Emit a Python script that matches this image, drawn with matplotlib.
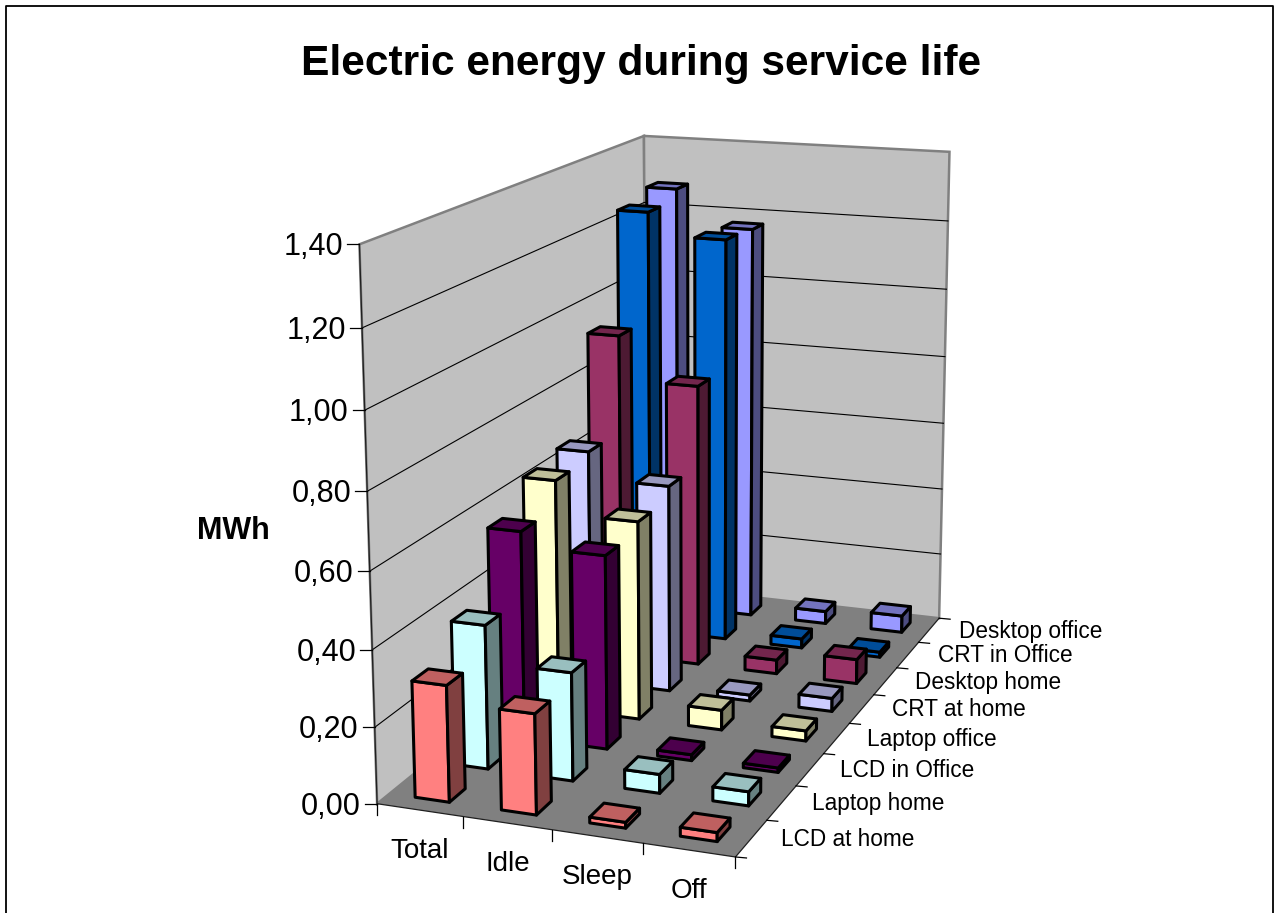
import matplotlib
matplotlib.use('Agg')
import matplotlib.pyplot as plt
from matplotlib.patches import Polygon
import numpy as np

plt.rcParams['font.family'] = ['Liberation Sans', 'DejaVu Sans']

# data, MWh
categories = ['Total', 'Idle', 'Sleep', 'Off']
series_names = ['LCD at home', 'Laptop home', 'LCD in Office', 'Laptop office',
                'CRT at home', 'Desktop home', 'CRT in Office', 'Desktop office']
lcd_home = [0.305, 0.262, 0.015, 0.023]
laptop_home = [0.385, 0.288, 0.05, 0.037]
lcd_office = [0.565, 0.525, 0.016, 0.012]
laptop_office = [0.64, 0.55, 0.055, 0.028]
crt_home = [0.66, 0.585, 0.017, 0.037]
desktop_home = [0.935, 0.81, 0.04, 0.07]
crt_office = [1.245, 1.18, 0.027, 0.015]
desktop_office = [1.275, 1.17, 0.037, 0.05]
values = [lcd_home, laptop_home, lcd_office, laptop_office,
          crt_home, desktop_home, crt_office, desktop_office]
colors = ['#FF8080', '#CCFFFF', '#660066', '#FFFFCC',
          '#CCCCFF', '#993366', '#0066CC', '#9999FF']
z_ticks = [0, 0.2, 0.4, 0.6, 0.8, 1.0, 1.2, 1.4]
z_labels = ['0,00', '0,20', '0,40', '0,60', '0,80', '1,00', '1,20', '1,40']

n_cat = len(categories)
n_ser = len(series_names)
z_max = 1.4

# camera: fit the perspective from the corners of the chart box
box_3d = [(0, 0, 0), (n_cat, 0, 0), (n_cat, n_ser, 0), (0, n_ser, 0),
          (0, 0, z_max), (0, n_ser, z_max), (n_cat, n_ser, z_max)]
box_px = [(377, 804), (735, 857), (939, 618), (647, 585),
          (360, 244), (643, 136), (950, 152)]
A = []
b = []
for (x, y, z), (u, v) in zip(box_3d, box_px):
    A.append([x, y, z, 1, 0, 0, 0, 0, -u * x, -u * y, -u * z])
    b.append(u)
    A.append([0, 0, 0, 0, x, y, z, 1, -v * x, -v * y, -v * z])
    b.append(v)
m = np.linalg.lstsq(np.array(A, float), np.array(b, float), rcond=None)[0]
M = np.append(m, 1).reshape(3, 4)


def proj(x, y, z):
    p = M @ np.array([x, y, z, 1.0])
    return p[0] / p[2], p[1] / p[2]


def shade(col, f):
    r, g, b = matplotlib.colors.to_rgb(col)
    return (r * f, g * f, b * f)


fig = plt.figure(figsize=(12.8, 9.13), dpi=100)
ax = fig.add_axes([0, 0, 1, 1])
ax.set_xlim(0, 1280)
ax.set_ylim(913, 0)
ax.axis('off')

# outer chart border, runs off the bottom
ax.plot([6, 6, 1273, 1273], [913, 6.5, 6.5, 913], color='black', lw=1.3)

# walls and floor
wall_kw = dict(facecolor='#C0C0C0', edgecolor='#808080', lw=1.8, zorder=1)
ax.add_patch(Polygon([proj(0, 0, 0), proj(0, n_ser, 0), proj(0, n_ser, z_max), proj(0, 0, z_max)], **wall_kw))
ax.add_patch(Polygon([proj(0, n_ser, 0), proj(n_cat, n_ser, 0), proj(n_cat, n_ser, z_max), proj(0, n_ser, z_max)], **wall_kw))
ax.add_patch(Polygon([proj(0, 0, 0), proj(n_cat, 0, 0), proj(n_cat, n_ser, 0), proj(0, n_ser, 0)],
                     facecolor='#808080', edgecolor='none', zorder=2))

# gridlines
for t in z_ticks[1:-1]:
    pts = [proj(0, 0, t), proj(0, n_ser, t), proj(n_cat, n_ser, t)]
    ax.plot([p[0] for p in pts], [p[1] for p in pts], color='black', lw=0.8, zorder=3)

# axis lines
pts = [proj(0, 0, z_max), proj(0, 0, 0), proj(n_cat, 0, 0), proj(n_cat, n_ser, 0)]
ax.plot([p[0] for p in pts], [p[1] for p in pts], color='#202020', lw=0.9, zorder=3)

# ticks and labels
for t, lab in zip(z_ticks, z_labels):
    u, v = proj(0, 0, t)
    ax.plot([u - 12, u], [v, v], color='black', lw=0.9, zorder=3)
    ax.text(u - 16, v + 3, lab, ha='right', va='center', fontsize=22)
for i in range(n_cat + 1):
    u, v = proj(i, 0, 0)
    ax.plot([u, u], [v, v + 11], color='black', lw=0.9, zorder=3)
for i, lab in enumerate(categories):
    u, v = proj(i + 0.5, 0, 0)
    ax.text(u, v + 41, lab, ha='center', va='center', fontsize=20)
for j in range(n_ser + 1):
    u, v = proj(n_cat, j, 0)
    ax.plot([u, u + 11], [v, v + 1], color='black', lw=0.9, zorder=3)
for j, lab in enumerate(series_names):
    u, v = proj(n_cat, j + 0.5, 0)
    ax.text(u + 30, v + 1, lab, ha='left', va='center', fontsize=16.3)

# bars, from the back row forward so nearer ones cover farther ones
half = 0.2
z = 4
for j in range(n_ser - 1, -1, -1):
    for i in range(n_cat):
        h = values[j][i]
        x0, x1 = i + 0.5 - half, i + 0.5 + half
        y0, y1 = j + 0.5 - half, j + 0.5 + half
        c = colors[j]
        kw = dict(edgecolor='black', lw=2.2, joinstyle='round', zorder=z)
        ax.add_patch(Polygon([proj(x0, y0, 0), proj(x1, y0, 0), proj(x1, y0, h), proj(x0, y0, h)], facecolor=c, **kw))
        ax.add_patch(Polygon([proj(x1, y0, 0), proj(x1, y1, 0), proj(x1, y1, h), proj(x1, y0, h)], facecolor=shade(c, 0.5), **kw))
        ax.add_patch(Polygon([proj(x0, y0, h), proj(x1, y0, h), proj(x1, y1, h), proj(x0, y1, h)], facecolor=shade(c, 0.75), **kw))
        z += 1

ax.text(641, 64, 'Electric energy during service life', ha='center', va='center',
        fontsize=30.6, fontweight='bold')
ax.text(233, 531, 'MWh', ha='center', va='center', fontsize=22, fontweight='bold')

fig.savefig('out.png', dpi=100)
